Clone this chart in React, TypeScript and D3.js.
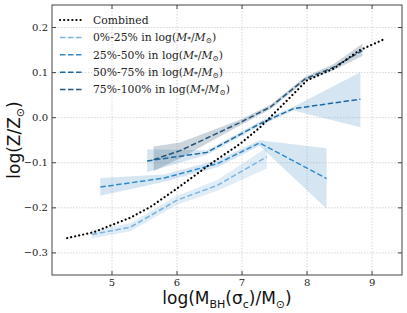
import React from 'react';
import * as d3 from 'd3';

const width = 407;
const height = 313;
const margin = { top: 5, right: 5, bottom: 38, left: 52 };

const xTicks = [5, 6, 7, 8, 9];
const yTicks = [-0.3, -0.2, -0.1, 0.0, 0.1, 0.2];
const yTickLabels = ['\u22120.3', '\u22120.2', '\u22120.1', '0.0', '0.1', '0.2'];

// combined relation (black dotted)
const combinedX = [4.31, 4.72, 5.28, 5.59, 6.0, 6.56, 6.97, 7.28, 7.69, 8.0, 8.41, 8.8, 9.2];
const combinedY = [-0.267, -0.254, -0.222, -0.198, -0.157, -0.098, -0.058, -0.021, 0.038, 0.083, 0.109, 0.149, 0.175];

// mass quartiles: x, median, lower and upper band
const q1X = [4.69, 5.28, 6.0, 6.62, 7.38];
const q1Y = [-0.259, -0.243, -0.183, -0.15, -0.087];
const q1Lo = [-0.268, -0.252, -0.193, -0.162, -0.113];
const q1Hi = [-0.25, -0.234, -0.173, -0.138, -0.066];

const q2X = [4.82, 5.8, 6.62, 7.27, 8.3];
const q2Y = [-0.154, -0.134, -0.102, -0.056, -0.135];
const q2Lo = [-0.173, -0.142, -0.11, -0.062, -0.202];
const q2Hi = [-0.134, -0.126, -0.094, -0.05, -0.068];

const q3X = [5.54, 6.46, 7.28, 7.79, 8.82];
const q3Y = [-0.096, -0.077, -0.013, 0.02, 0.041];
const q3Lo = [-0.121, -0.082, -0.018, 0.016, -0.021];
const q3Hi = [-0.07, -0.072, -0.008, 0.024, 0.101];

const q4X = [5.64, 6.05, 6.98, 7.44, 7.97, 8.41, 8.85];
const q4Y = [-0.093, -0.073, -0.01, 0.024, 0.086, 0.112, 0.149];
const q4Lo = [-0.118, -0.09, -0.016, 0.019, 0.081, 0.105, 0.137];
const q4Hi = [-0.064, -0.055, -0.004, 0.029, 0.091, 0.119, 0.164];

const groupNames = ['0%-25%', '25%-50%', '50%-75%', '75%-100%'];
const lineColors = ['#7ab4df', '#2f8ccc', '#1b6aa3', '#24557a'];
const bandColors = ['#8fbfe0', '#7fb3d8', '#7fb3d8', '#45627e'];
const bandOpacity = [0.28, 0.33, 0.33, 0.27];

const App = () => {
  const innerW = width - margin.left - margin.right;
  const innerH = height - margin.top - margin.bottom;

  const x = d3.scaleLinear().domain([4.077, 9.46]).range([0, innerW]);
  const y = d3.scaleLinear().domain([-0.349, 0.25]).range([innerH, 0]);

  const groups = [
    { xs: q1X, ys: q1Y, lo: q1Lo, hi: q1Hi },
    { xs: q2X, ys: q2Y, lo: q2Lo, hi: q2Hi },
    { xs: q3X, ys: q3Y, lo: q3Lo, hi: q3Hi },
    { xs: q4X, ys: q4Y, lo: q4Lo, hi: q4Hi },
  ];

  const line = d3.line<[number, number]>().x(d => x(d[0])).y(d => y(d[1]));
  const area = d3.area<[number, number, number]>()
    .x(d => x(d[0]))
    .y0(d => y(d[1]))
    .y1(d => y(d[2]));

  const combined = combinedX.map((v, i) => [v, combinedY[i]] as [number, number]);

  const serif = 'DejaVu Serif, serif';
  const sans = 'DejaVu Sans, sans-serif';
  const axisColor = '#444';

  return (
    <svg width={width} height={height} style={{ position: 'absolute', left: 0, top: 0 }}>
      <rect width={width} height={height} fill="#fff" />
      <g transform={`translate(${margin.left},${margin.top})`}>
        {/* grid */}
        {xTicks.map(t => (
          <line key={'gx' + t} x1={x(t)} x2={x(t)} y1={0} y2={innerH}
            stroke="#ccc" strokeWidth={0.8} strokeDasharray="1.5,1.5" />
        ))}
        {yTicks.map(t => (
          <line key={'gy' + t} x1={0} x2={innerW} y1={y(t)} y2={y(t)}
            stroke="#ccc" strokeWidth={0.8} strokeDasharray="1.5,1.5" />
        ))}

        {/* bands */}
        {groups.map((g, i) => (
          <path key={'b' + i}
            d={area(g.xs.map((v, j) => [v, g.lo[j], g.hi[j]] as [number, number, number])) || ''}
            fill={bandColors[i]} fillOpacity={bandOpacity[i]} />
        ))}

        {/* lines */}
        {groups.map((g, i) => (
          <path key={'l' + i}
            d={line(g.xs.map((v, j) => [v, g.ys[j]] as [number, number])) || ''}
            fill="none" stroke={lineColors[i]} strokeWidth={1.5} strokeDasharray="5.5,2.5" />
        ))}
        <path d={line(combined) || ''} fill="none" stroke="#000" strokeWidth={2.2}
          strokeDasharray="0.1,4" strokeLinecap="round" />

        {/* frame */}
        <rect x={0} y={0} width={innerW} height={innerH} fill="none" stroke={axisColor} strokeWidth={1} />

        {/* ticks */}
        {xTicks.map(t => (
          <g key={'tx' + t}>
            <line x1={x(t)} x2={x(t)} y1={innerH} y2={innerH - 4} stroke={axisColor} />
            <line x1={x(t)} x2={x(t)} y1={0} y2={4} stroke={axisColor} />
            <text x={x(t)} y={innerH + 10.5} textAnchor="middle" fontFamily={serif} fontSize={10} fill="#222">{t}</text>
          </g>
        ))}
        {yTicks.map((t, i) => (
          <g key={'ty' + t}>
            <line x1={0} x2={4} y1={y(t)} y2={y(t)} stroke={axisColor} />
            <line x1={innerW} x2={innerW - 4} y1={y(t)} y2={y(t)} stroke={axisColor} />
            <text x={-4} y={y(t)} dy="0.35em" textAnchor="end" fontFamily={serif} fontSize={10} fill="#222">{yTickLabels[i]}</text>
          </g>
        ))}

        {/* legend */}
        <g transform="translate(8,15)">
          <line x1={0} x2={23} y1={0} y2={0} stroke="#000" strokeWidth={2.2}
            strokeDasharray="0.1,4" strokeLinecap="round" />
          <text x={33} y={0} dy="0.35em" fontFamily={serif} fontSize={10.8} fill="#222">Combined</text>
          {groupNames.map((n, i) => (
            <g key={'lg' + i} transform={`translate(0,${(i + 1) * 17.4})`}>
              <line x1={0} x2={23} y1={0} y2={0} stroke={lineColors[i]} strokeWidth={1.5} strokeDasharray="5.5,2.5" />
              <text x={33} y={0} dy="0.35em" fontFamily={serif} fontSize={10.8} fill="#222">
                {n} in log(<tspan fontStyle="italic">M</tspan><tspan fontSize={7.5} dy="1">*</tspan>
                <tspan dy="-1">/</tspan><tspan fontStyle="italic">M</tspan>
                <tspan fontSize={7.5} dy="2">{'\u2299'}</tspan><tspan dy="-2">)</tspan>
              </text>
            </g>
          ))}
        </g>
      </g>

      {/* axis labels */}
      <text x={margin.left + innerW / 2} y={304} textAnchor="middle" fontFamily={sans} fontSize={17} fill="#111">
        log(M<tspan fontSize={11} dy="4">BH</tspan><tspan dy="-4">(σ</tspan><tspan fontSize={11} dy="4">c</tspan>
        <tspan dy="-4">)/M</tspan><tspan fontSize={11} dy="4">{'\u2299'}</tspan><tspan dy="-4">)</tspan>
      </text>
      <text transform={`translate(20,${margin.top + innerH / 2}) rotate(-90)`} textAnchor="middle"
        fontFamily={sans} fontSize={17} fill="#111">
        log(Z/Z<tspan fontSize={11} dy="4">{'\u2299'}</tspan><tspan dy="-4">)</tspan>
      </text>
    </svg>
  );
};

export default App;
